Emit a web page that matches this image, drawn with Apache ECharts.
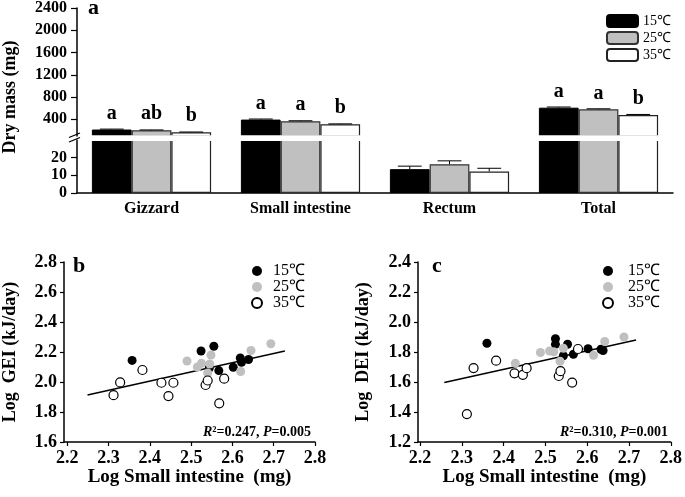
<!DOCTYPE html>
<html><head><meta charset="utf-8">
<script src="https://cdn.jsdelivr.net/npm/echarts@6/dist/echarts.min.js"></script>
<style>html,body{margin:0;padding:0;background:#fff}#c{width:685px;height:497px}</style>
</head><body><div id="c"></div>
<script>
const FONT = "'Liberation Serif','Times New Roman',serif";

// ---------- panel a data ----------
const categories = ['Gizzard', 'Small intestine', 'Rectum', 'Total'];
const groups = ['15℃', '25℃', '35℃'];
const mean15 = [216, 395, 13.5, 609];
const err15 = [8, 10, 1.7, 12];
const mean25 = [203, 365, 16.3, 579];
const err25 = [6, 9, 1.9, 10];
const mean35 = [167, 310, 12.2, 477];
const err35 = [5, 8, 1.8, 10];
const letters15 = ['a', 'a', '', 'a'];
const letters25 = ['ab', 'a', '', 'a'];
const letters35 = ['b', 'b', '', 'b'];
const upperTicks = [400, 800, 1200, 1600, 2000, 2400];
const lowerTicks = [0, 10, 20];

// ---------- panel b data (log small intestine, log GEI) ----------
const gei15 = [[2.357,2.144],[2.524,2.207],[2.555,2.238],[2.544,2.093],[2.567,2.076],[2.602,2.098],[2.619,2.160],[2.622,2.131],[2.639,2.150]];
const gei25 = [[2.490,2.140],[2.515,2.100],[2.525,2.125],[2.548,2.180],[2.545,2.120],[2.540,2.060],[2.620,2.070],[2.645,2.210],[2.693,2.255]];
const gei35 = [[2.312,1.912],[2.328,1.997],[2.382,2.080],[2.428,1.995],[2.457,1.995],[2.445,1.906],[2.535,1.980],[2.540,2.010],[2.580,2.022],[2.568,1.858]];
const trendGEI = [[2.249,1.913],[2.727,2.207]];

// ---------- panel c data (log small intestine, log DEI) ----------
const dei15 = [[2.360,1.858],[2.524,1.888],[2.524,1.851],[2.553,1.852],[2.543,1.775],[2.567,1.785],[2.602,1.822],[2.633,1.818],[2.638,1.810]];
const dei25 = [[2.428,1.725],[2.488,1.797],[2.510,1.807],[2.520,1.802],[2.543,1.825],[2.535,1.738],[2.615,1.778],[2.642,1.870],[2.688,1.900]];
const dei35 = [[2.312,1.386],[2.328,1.693],[2.382,1.742],[2.426,1.658],[2.446,1.648],[2.455,1.692],[2.532,1.640],[2.536,1.672],[2.564,1.596],[2.578,1.820]];
const trendDEI = [[2.258,1.596],[2.717,1.880]];

const xTicks = [2.2, 2.3, 2.4, 2.5, 2.6, 2.7, 2.8];

const UPPER_MIN = 100, UPPER_MAX = 2400, LOWER_MAX = 30;
const means = [mean15, mean25, mean35];
const errs = [err15, err25, err35];
const letters = [letters15, letters25, letters35];
const barStyles = [
  {color: '#000', borderColor: '#000', borderWidth: 1},
  {color: '#c0c0c0', borderColor: '#333', borderWidth: 1.2},
  {color: '#fff', borderColor: '#222', borderWidth: 1.2}
];

function errRender(idx) {
  return function (params, api) {
    const k = api.value(0), m = api.value(1), e = api.value(2);
    const base = api.coord([k, m]);
    const top = api.coord([k, m + e]);
    const band = api.size([1, 0])[0];
    const bw = band * 0.8 / 3;
    const cx = base[0] + (idx - 1) * bw;
    const half = bw * 0.3;
    const st = {stroke: '#000', lineWidth: 1};
    return {type: 'group', children: [
      {type: 'line', shape: {x1: cx, y1: base[1], x2: cx, y2: top[1]}, style: st},
      {type: 'line', shape: {x1: cx - half, y1: top[1], x2: cx + half, y2: top[1]}, style: st}
    ]};
  };
}

const series = [];
for (let i = 0; i < 3; i++) {
  series.push({
    type: 'bar', name: groups[i], xAxisIndex: 0, yAxisIndex: 0,
    data: means[i].map(v => v >= UPPER_MIN ? v : '-'),
    barGap: '0%', barCategoryGap: '20%', itemStyle: barStyles[i], clip: true,
    label: {show: true, position: 'top', distance: 6, formatter: p => letters[i][p.dataIndex],
      fontFamily: FONT, fontWeight: 'bold', fontSize: 20, color: '#000'}
  });
  series.push({
    type: 'bar', name: groups[i], xAxisIndex: 1, yAxisIndex: 1,
    data: means[i].slice(), barGap: '0%', barCategoryGap: '20%', itemStyle: barStyles[i], clip: true
  });
  const up = [], lo = [];
  means[i].forEach((v, k) => {
    if (v >= UPPER_MIN) up.push([k, v, errs[i][k]]);
    else if (v + errs[i][k] <= LOWER_MAX) lo.push([k, v, errs[i][k]]);
  });
  series.push({type: 'custom', name: 'err' + i, xAxisIndex: 0, yAxisIndex: 0, renderItem: errRender(i), data: up, encode: {x: 0, y: 1}, z: 5});
  series.push({type: 'custom', name: 'err' + i, xAxisIndex: 1, yAxisIndex: 1, renderItem: errRender(i), data: lo, encode: {x: 0, y: 1}, z: 5});
}

const scStyles = [
  {color: '#000', opacity: 1},
  {color: '#c0c0c0', opacity: 1},
  {color: '#fff', borderColor: '#000', borderWidth: 1.2, opacity: 1}
];
const geiSets = [gei15, gei25, gei35];
const deiSets = [dei15, dei25, dei35];
for (let i = 0; i < 3; i++) {
  series.push({type: 'scatter', name: 'b|' + groups[i], xAxisIndex: 2, yAxisIndex: 2, data: geiSets[i], symbolSize: 9, itemStyle: scStyles[i]});
  series.push({type: 'scatter', name: 'c|' + groups[i], xAxisIndex: 3, yAxisIndex: 3, data: deiSets[i], symbolSize: 9, itemStyle: scStyles[i]});
}
series.push({type: 'line', name: 'trendB', xAxisIndex: 2, yAxisIndex: 2, data: trendGEI, showSymbol: false, lineStyle: {color: '#000', width: 1.5}, z: 1});
series.push({type: 'line', name: 'trendC', xAxisIndex: 3, yAxisIndex: 3, data: trendDEI, showSymbol: false, lineStyle: {color: '#000', width: 1.5}, z: 1});

const axLine = {show: true, onZero: false, lineStyle: {color: '#000', width: 1.5}};
const lab = (extra) => Object.assign({color: '#000', fontFamily: FONT, fontWeight: 'bold'}, extra);

function scatterX(grid, min) {
  return {type: 'value', gridIndex: grid, min: min, max: 2.8,
    axisLine: axLine, splitLine: {show: false},
    axisTick: {show: true, customValues: xTicks, length: 4, lineStyle: {color: '#000', width: 1.2}},
    axisLabel: lab({customValues: xTicks, formatter: v => v.toFixed(1), fontSize: 18, margin: 7}),
    name: 'Log Small intestine  (mg)', nameLocation: 'middle', nameGap: 25,
    nameTextStyle: lab({fontSize: 19})};
}
function scatterY(grid, min, max, name, gap) {
  return {type: 'value', gridIndex: grid, min: min, max: max, interval: 0.2,
    axisLine: axLine, splitLine: {show: false},
    axisTick: {show: true, length: 4, lineStyle: {color: '#000', width: 1.2}},
    axisLabel: lab({formatter: v => v.toFixed(1), fontSize: 18, margin: 7}),
    name: name, nameLocation: 'middle', nameGap: gap, nameTextStyle: lab({fontSize: 18})};
}

const legendText = {fontFamily: FONT, fontSize: 16, color: '#000'};
const option = {
  animation: false,
  backgroundColor: '#fff',
  grid: [
    {left: 77, top: 7, width: 596, height: 129},
    {left: 77, top: 140, width: 596, height: 53},
    {left: 64, top: 262, width: 251, height: 180},
    {left: 418, top: 262, width: 259, height: 180}
  ],
  xAxis: [
    {type: 'category', gridIndex: 0, data: categories, show: false},
    {type: 'category', gridIndex: 1, data: categories, axisLine: axLine, axisTick: {show: false},
      axisLabel: lab({fontSize: 16, margin: 8})},
    scatterX(2, 2.192),
    scatterX(3, 2.195)
  ],
  yAxis: [
    {type: 'value', gridIndex: 0, min: UPPER_MIN, max: UPPER_MAX, axisLine: axLine, splitLine: {show: false},
      axisTick: {show: true, customValues: upperTicks, length: 6, lineStyle: {color: '#000', width: 1.2}},
      axisLabel: lab({customValues: upperTicks, formatter: v => String(v), fontSize: 16, margin: 10})},
    {type: 'value', gridIndex: 1, min: 0, max: LOWER_MAX, axisLine: axLine, splitLine: {show: false},
      axisTick: {show: true, customValues: lowerTicks, length: 6, lineStyle: {color: '#000', width: 1.2}},
      axisLabel: lab({customValues: lowerTicks, formatter: v => String(v), fontSize: 16, margin: 10})},
    scatterY(2, 1.6, 2.8, 'Log  GEI (kJ/day)', 45),
    scatterY(3, 1.2, 2.4, 'Log  DEI (kJ/day)', 46)
  ],
  legend: [
    {data: groups, orient: 'vertical', left: 606, top: 14, padding: 0, itemWidth: 31, itemHeight: 12, itemGap: 3,
      textStyle: {fontFamily: FONT, fontSize: 14, color: '#000'}},
    {data: groups.map(g => 'b|' + g), formatter: n => n.split('|')[1], orient: 'vertical', left: 251, top: 263,
      padding: 0, itemWidth: 22, itemHeight: 10, itemGap: 0, textStyle: legendText},
    {data: groups.map(g => 'c|' + g), formatter: n => n.split('|')[1], orient: 'vertical', left: 602, top: 263,
      padding: 0, itemWidth: 30, itemHeight: 10, itemGap: 0, textStyle: legendText}
  ],
  graphic: [
    {type: 'rect', z: 100, shape: {x: 78, y: 135.3, width: 600, height: 5.6}, style: {fill: '#fff'}},
    {type: 'line', z: 101, shape: {x1: 69, y1: 137.5, x2: 80, y2: 133}, style: {stroke: '#000', lineWidth: 1.3}},
    {type: 'line', z: 101, shape: {x1: 69, y1: 142, x2: 80, y2: 137.5}, style: {stroke: '#000', lineWidth: 1.3}},
    {type: 'text', z: 101, x: 10, y: 97, rotation: Math.PI / 2,
      style: {text: 'Dry mass (mg)', font: 'bold 18px ' + FONT, fill: '#000', textAlign: 'center', textVerticalAlign: 'middle'}},
    {type: 'text', z: 101, x: 88, y: 8, style: {text: 'a', font: 'bold 22px ' + FONT, fill: '#000', textVerticalAlign: 'middle'}},
    {type: 'text', z: 101, x: 73, y: 266, style: {text: 'b', font: 'bold 22px ' + FONT, fill: '#000', textVerticalAlign: 'middle'}},
    {type: 'text', z: 101, x: 432, y: 266, style: {text: 'c', font: 'bold 22px ' + FONT, fill: '#000', textVerticalAlign: 'middle'}},
    {type: 'text', z: 101, x: 311, y: 432, style: {
      text: '{i|R}{n|²=0.247, }{i|P}{n|=0.005}', textAlign: 'right', textVerticalAlign: 'middle', fill: '#000',
      rich: {i: {fontStyle: 'italic', fontWeight: 'bold', fontSize: 14, fontFamily: FONT}, n: {fontWeight: 'bold', fontSize: 14, fontFamily: FONT}}}},
    {type: 'text', z: 101, x: 668, y: 432, style: {
      text: '{i|R}{n|²=0.310, }{i|P}{n|=0.001}', textAlign: 'right', textVerticalAlign: 'middle', fill: '#000',
      rich: {i: {fontStyle: 'italic', fontWeight: 'bold', fontSize: 14, fontFamily: FONT}, n: {fontWeight: 'bold', fontSize: 14, fontFamily: FONT}}}}
  ],
  series: series
};
const chart = echarts.init(document.getElementById('c'), null, {renderer: 'canvas'});
chart.setOption(option);
</script></body></html>
